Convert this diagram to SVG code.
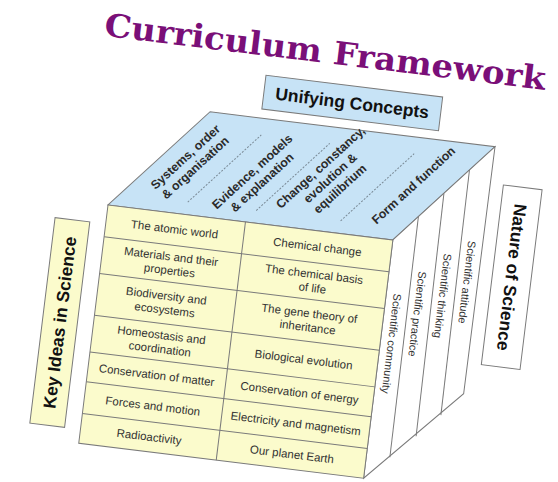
<svg xmlns="http://www.w3.org/2000/svg" width="558" height="482" viewBox="0 0 558 482">
  <defs>
    <style>
      .title { font-family: "DejaVu Serif", "Liberation Serif", serif; font-weight: bold; font-size: 32px; fill: #7a0f78; }
      .lbl { font-family: "Liberation Sans", Arial, sans-serif; font-weight: bold; font-size: 17.5px; fill: #111; text-anchor: middle; }
      .cell { font-family: "Liberation Sans", Arial, sans-serif; font-size: 11.5px; fill: #333; text-anchor: middle; }
      .top { font-family: "Liberation Sans", Arial, sans-serif; font-weight: bold; font-size: 12.3px; fill: #2a2a2a; text-anchor: middle; }
      .side { font-family: "Liberation Sans", Arial, sans-serif; font-size: 11px; fill: #333; text-anchor: middle; }
      .edge { stroke: #7a7a7a; stroke-width: 1; }
      .dash { stroke: #7a8a96; stroke-width: 1; stroke-dasharray: 2 1.5; fill: none; }
    </style>
  </defs>
  <rect width="558" height="482" fill="#ffffff"/>
  <g transform="translate(108,205) rotate(7)">
    <g id="title">
      <text class="title" x="-25" y="-167.5" textLength="444" lengthAdjust="spacingAndGlyphs">Curriculum Framework</text>
    </g>

    <g id="unifying-concepts">
      <rect x="141" y="-148" width="178" height="34" fill="#c7e3f6" class="edge"/>
      <text class="lbl" x="230" y="-125">Unifying Concepts</text>
    </g>

    <g id="key-ideas-label">
      <rect x="-51" y="19" width="35" height="207" fill="#fbfbcc" class="edge"/>
      <text class="lbl" transform="translate(-33.5,122.5) rotate(-90)" x="0" y="6">Key Ideas in Science</text>
    </g>

    <g id="nature-label">
      <rect x="390" y="-68" width="39" height="181" fill="#ffffff" class="edge"/>
      <text class="lbl" transform="translate(409.5,22.5) rotate(90)" x="0" y="6">Nature of Science</text>
    </g>

    <g id="top-face">
      <polygon points="0,0 287,0 377,-105 90,-105" fill="#c7e3f6" class="edge"/>
      <g transform="translate(76.5,-52.5) rotate(-49.4)">
        <text class="top" x="0" y="-3">Systems, order</text>
        <text class="top" x="0" y="11.5">&amp; organisation</text>
      </g>
      <g transform="translate(144.5,-46) rotate(-49.4)">
        <text class="top" x="0" y="-3">Evidence, models</text>
        <text class="top" x="0" y="11.5">&amp; explanation</text>
      </g>
      <g transform="translate(217,-54) rotate(-49.4)">
        <text class="top" x="0" y="-10">Change, constancy,</text>
        <text class="top" x="0" y="4.5">evolution &amp;</text>
        <text class="top" x="0" y="19">equilibrium</text>
      </g>
      <g transform="translate(300.5,-57) rotate(-49.4)">
        <text class="top" x="0" y="4.5">Form and function</text>
      </g>
    </g>

    <g id="right-face">
      <polygon points="287,0 377,-105 376,144 287,240" fill="#ffffff" class="edge"/>
      <line x1="309.5" y1="-26.3" x2="310.5" y2="216" class="edge"/>
      <line x1="332" y1="-52.5" x2="334" y2="192" class="edge"/>
      <line x1="354.5" y1="-78.8" x2="356" y2="168" class="edge"/>
      <text class="side" transform="translate(298.5,103) rotate(90)" x="0" y="4">Scientific community</text>
      <text class="side" transform="translate(320.5,70.5) rotate(90)" x="0" y="4">Scientific practice</text>
      <text class="side" transform="translate(343.5,49.5) rotate(90)" x="0" y="4">Scientific thinking</text>
      <text class="side" transform="translate(366,33) rotate(90)" x="0" y="4">Scientific attitude</text>
    </g>

    <g id="front-face">
      <rect x="0" y="0" width="287" height="240" fill="#fbfbcc" class="edge"/>
      <line x1="138.5" y1="0" x2="138.5" y2="240" class="edge"/>
      <line x1="0" y1="32" x2="287" y2="32" class="edge"/>
      <line x1="0" y1="69" x2="287" y2="69" class="edge"/>
      <line x1="0" y1="111" x2="287" y2="111" class="edge"/>
      <line x1="0" y1="148" x2="287" y2="148" class="edge"/>
      <line x1="0" y1="178" x2="287" y2="178" class="edge"/>
      <line x1="0" y1="210" x2="287" y2="210" class="edge"/>

      <text class="cell" x="69" y="20">The atomic world</text>
      <text class="cell" x="69" y="47.5">Materials and their</text>
      <text class="cell" x="69" y="61.5">properties</text>
      <text class="cell" x="69" y="87">Biodiversity and</text>
      <text class="cell" x="69" y="101">ecosystems</text>
      <text class="cell" x="69" y="126.5">Homeostasis and</text>
      <text class="cell" x="69" y="140.5">coordination</text>
      <text class="cell" x="69" y="167">Conservation of matter</text>
      <text class="cell" x="69" y="198">Forces and motion</text>
      <text class="cell" x="69" y="229">Radioactivity</text>

      <text class="cell" x="213" y="20">Chemical change</text>
      <text class="cell" x="213" y="47.5">The chemical basis</text>
      <text class="cell" x="213" y="61.5">of life</text>
      <text class="cell" x="213" y="87">The gene theory of</text>
      <text class="cell" x="213" y="101">inheritance</text>
      <text class="cell" x="213" y="133.5">Biological evolution</text>
      <text class="cell" x="213" y="167">Conservation of energy</text>
      <text class="cell" x="213" y="198">Electricity and magnetism</text>
      <text class="cell" x="213" y="229">Our planet Earth</text>
    </g>

    <g id="connectors">
      <line x1="78.8" y1="-12.6" x2="143.6" y2="-88.2" class="dash"/>
      <line x1="147.8" y1="-12.6" x2="212.6" y2="-88.2" class="dash"/>
      <line x1="232.8" y1="-12.6" x2="297.6" y2="-88.2" class="dash"/>
    </g>
  </g>
</svg>
